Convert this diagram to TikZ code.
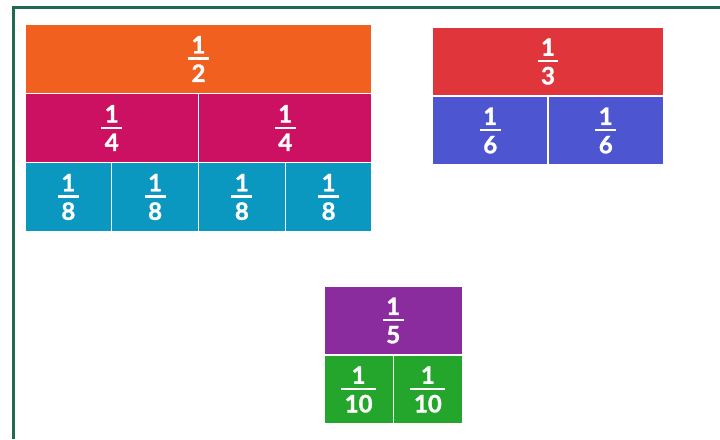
\documentclass[tikz,border=0pt]{standalone}
\usepackage{fontspec}
\setmainfont{Lato}
\newfontfamily\fracfont{Lato}[BoldFeatures={FakeBold=1.3}]
\definecolor{cHalf}{HTML}{F2601F}
\definecolor{cQuarter}{HTML}{CC1062}
\definecolor{cEighth}{HTML}{0A97C0}
\definecolor{cThird}{HTML}{E1353C}
\definecolor{cSixth}{HTML}{4E55D1}
\definecolor{cFifth}{HTML}{8B2C9E}
\definecolor{cTenth}{HTML}{23A62B}
\definecolor{frameGreen}{HTML}{1F6A50}
\newcommand\fb[2]{%
  \setbox0\hbox{#1}\setbox2\hbox{#2}%
  \dimen0=\ifdim\wd0>\wd2 \wd0\else\wd2\fi
  \advance\dimen0 by 7pt
  \vbox{\offinterlineskip
    \hbox to\dimen0{\hfil\box0\hfil}%
    \vskip4pt
    \hrule height 2.5pt width \dimen0
    \vskip4.5pt
    \hbox to\dimen0{\hfil\box2\hfil}}}
\tikzset{
  cellbox/.style={draw=white, line width=1.4pt, inner sep=0pt, text=white,
    font=\fracfont\fontsize{24}{28}\selectfont\bfseries, minimum height=69pt}
}
\begin{document}
\begin{tikzpicture}[x=1pt,y=-1pt]
\useasboundingbox (0,0) rectangle (720,439);
\fill[white] (0,0) rectangle (720,439);
\draw[frameGreen, line width=2.2pt] (13.5,439) -- (13.5,7.5) -- (720,7.5);
% halves / quarters / eighths
\node[cellbox, fill=cHalf, minimum width=347pt] (h) at (198.5,59) {\fb{1}{2}};
\node[cellbox, fill=cQuarter, minimum width=173.5pt] (q1) at (111.75,128) {\fb{1}{4}};
\node[cellbox, fill=cQuarter, minimum width=173.5pt] (q2) at (285.25,128) {\fb{1}{4}};
\node[cellbox, fill=cEighth, minimum width=86.75pt] (e1) at (68.375,197) {\fb{1}{8}};
\node[cellbox, fill=cEighth, minimum width=86.75pt] (e2) at (155.125,197) {\fb{1}{8}};
\node[cellbox, fill=cEighth, minimum width=86.75pt] (e3) at (241.875,197) {\fb{1}{8}};
\node[cellbox, fill=cEighth, minimum width=86.75pt] (e4) at (328.625,197) {\fb{1}{8}};
% thirds / sixths
\node[cellbox, fill=cThird, minimum width=231pt] (t) at (548,61.5) {\fb{1}{3}};
\node[cellbox, fill=cSixth, minimum width=115.5pt] (s1) at (490.25,130.5) {\fb{1}{6}};
\node[cellbox, fill=cSixth, minimum width=115.5pt] (s2) at (605.75,130.5) {\fb{1}{6}};
% fifths / tenths
\node[cellbox, fill=cFifth, minimum width=138.5pt] (f) at (393.25,320.5) {\fb{1}{5}};
\node[cellbox, fill=cTenth, minimum width=69.25pt] (d1) at (358.625,389.5) {\fb{1}{10}};
\node[cellbox, fill=cTenth, minimum width=69.25pt] (d2) at (427.875,389.5) {\fb{1}{10}};
\end{tikzpicture}
\end{document}
